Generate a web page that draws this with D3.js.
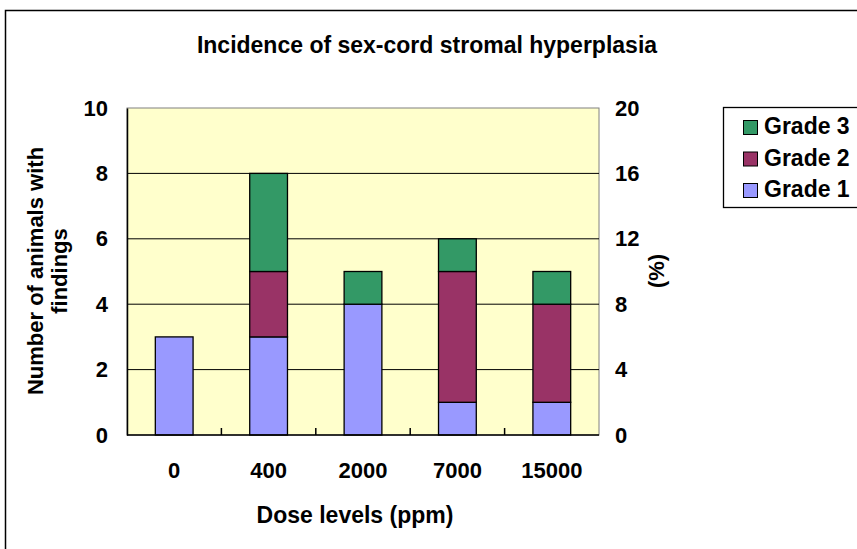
<!DOCTYPE html>
<html>
<head>
<meta charset="utf-8">
<script src="https://cdn.jsdelivr.net/npm/d3@7"></script>
<style>
  body { margin: 0; background: #fff; }
  svg text { font-family: "Liberation Sans", Arial, sans-serif; font-weight: bold; fill: #000; }
</style>
</head>
<body>
<div id="container"></div>
<script>
/* DATA */
const doses = ['0', '400', '2000', '7000', '15000']
const grade1 = [3, 3, 4, 1, 1]
const grade2 = [0, 2, 0, 4, 3]
const grade3 = [0, 3, 1, 1, 1]
const seriesNames = ['Grade 1', 'Grade 2', 'Grade 3']
const seriesColors = ['#9999FF', '#993366', '#339966']
const leftTicks = [0, 2, 4, 6, 8, 10]
const rightTicks = [0, 4, 8, 12, 16, 20]

/* CONSTANTS */
const width = 857
const height = 549
const plot = { left: 127, right: 599, top: 108, bottom: 435 }
const fs = '22px'

const table = doses.map((d, i) => ({ dose: d, 'Grade 1': grade1[i], 'Grade 2': grade2[i], 'Grade 3': grade3[i] }))
const stacked = d3.stack().keys(seriesNames)(table)

const svg = d3.select('#container')
  .append('svg')
  .attr('width', width)
  .attr('height', height)

// outer chart border (runs off the right and bottom edge)
svg.append('rect')
  .attr('x', 5.5).attr('y', 10.5)
  .attr('width', 900).attr('height', 600)
  .attr('fill', 'none').attr('stroke', '#000').attr('stroke-width', 1.5)

/* SCALES */
const xScale = d3.scaleBand()
  .domain(doses)
  .range([plot.left, plot.right])
  .paddingInner(0.6)
  .paddingOuter(0.3)

const xOuter = d3.scaleBand()
  .domain(doses)
  .range([plot.left, plot.right])

const yScale = d3.scaleLinear().domain([0, 10]).range([plot.bottom, plot.top])
const yRight = d3.scaleLinear().domain([0, 20]).range([plot.bottom, plot.top])

// plot background
svg.append('rect')
  .attr('x', plot.left).attr('y', plot.top)
  .attr('width', plot.right - plot.left).attr('height', plot.bottom - plot.top)
  .attr('fill', '#FFFFCC')
  .attr('stroke', '#808080').attr('stroke-width', 1)

// gridlines
svg.append('g')
  .selectAll('line')
  .data(leftTicks.slice(1, -1))
  .join('line')
  .attr('x1', plot.left).attr('x2', plot.right)
  .attr('y1', d => yScale(d)).attr('y2', d => yScale(d))
  .attr('stroke', '#000').attr('stroke-width', 1)

/* BARS */
svg.append('g')
  .selectAll('g')
  .data(stacked)
  .join('g')
  .attr('fill', (d, i) => seriesColors[i])
  .selectAll('rect')
  .data(d => d.filter(v => v[1] > v[0]))
  .join('rect')
  .attr('x', d => xScale(d.data.dose))
  .attr('width', xScale.bandwidth())
  .attr('y', d => yScale(d[1]))
  .attr('height', d => yScale(d[0]) - yScale(d[1]))
  .attr('stroke', '#000').attr('stroke-width', 1.3)

/* AXES */
const leftAxis = svg.append('g')
  .attr('transform', `translate(${plot.left},0)`)
  .call(d3.axisLeft(yScale).tickValues(leftTicks).tickSize(0).tickPadding(19))
leftAxis.select('.domain').attr('stroke', '#000').attr('stroke-width', 1.5)
leftAxis.selectAll('text').style('font-size', fs)

const rightAxis = svg.append('g')
  .attr('transform', `translate(${plot.right},0)`)
  .call(d3.axisRight(yRight).tickValues(rightTicks).tickSize(0).tickPadding(16))
rightAxis.select('.domain').remove()
rightAxis.selectAll('text').style('font-size', fs)

const bottomAxis = svg.append('g')
  .attr('transform', `translate(0,${plot.bottom})`)
  .call(d3.axisBottom(xScale).tickSize(0).tickPadding(27))
bottomAxis.select('.domain').remove()
bottomAxis.selectAll('text').style('font-size', fs)

svg.append('line')
  .attr('x1', plot.left).attr('x2', plot.right)
  .attr('y1', plot.bottom).attr('y2', plot.bottom)
  .attr('stroke', '#000').attr('stroke-width', 1.5)

// small inward ticks between categories
svg.append('g')
  .selectAll('line')
  .data(doses.slice(1))
  .join('line')
  .attr('x1', d => xOuter(d)).attr('x2', d => xOuter(d))
  .attr('y1', plot.bottom).attr('y2', plot.bottom - 7)
  .attr('stroke', '#000').attr('stroke-width', 1.5)

/* TITLES */
svg.append('text')
  .attr('x', 427).attr('y', 53)
  .attr('text-anchor', 'middle')
  .style('font-size', '23px')
  .text('Incidence of sex-cord stromal hyperplasia')

svg.append('text')
  .attr('x', 355).attr('y', 523)
  .attr('text-anchor', 'middle')
  .style('font-size', '23px')
  .text('Dose levels (ppm)')

const yTitle = svg.append('text')
  .attr('transform', 'translate(43,271) rotate(-90)')
  .attr('text-anchor', 'middle')
  .style('font-size', fs)
yTitle.append('tspan').attr('x', 0).attr('dy', 0).text('Number of animals with')
yTitle.append('tspan').attr('x', 0).attr('dy', 24).text('findings')

svg.append('text')
  .attr('transform', 'translate(664,271) rotate(-90)')
  .attr('text-anchor', 'middle')
  .style('font-size', fs)
  .text('(%)')

/* LEGEND */
svg.append('rect')
  .attr('x', 723.5).attr('y', 107.5)
  .attr('width', 200).attr('height', 100)
  .attr('fill', '#fff').attr('stroke', '#000').attr('stroke-width', 1.3)

const legendOrder = [2, 1, 0]
legendOrder.forEach((s, i) => {
  const base = 134 + i * 31.5
  svg.append('rect')
    .attr('x', 743.5).attr('y', base - 13.5)
    .attr('width', 14).attr('height', 14)
    .attr('fill', seriesColors[s]).attr('stroke', '#000').attr('stroke-width', 1)
  svg.append('text')
    .attr('x', 764).attr('y', base)
    .style('font-size', '23px')
    .text(seriesNames[s])
})
</script>
</body>
</html>
